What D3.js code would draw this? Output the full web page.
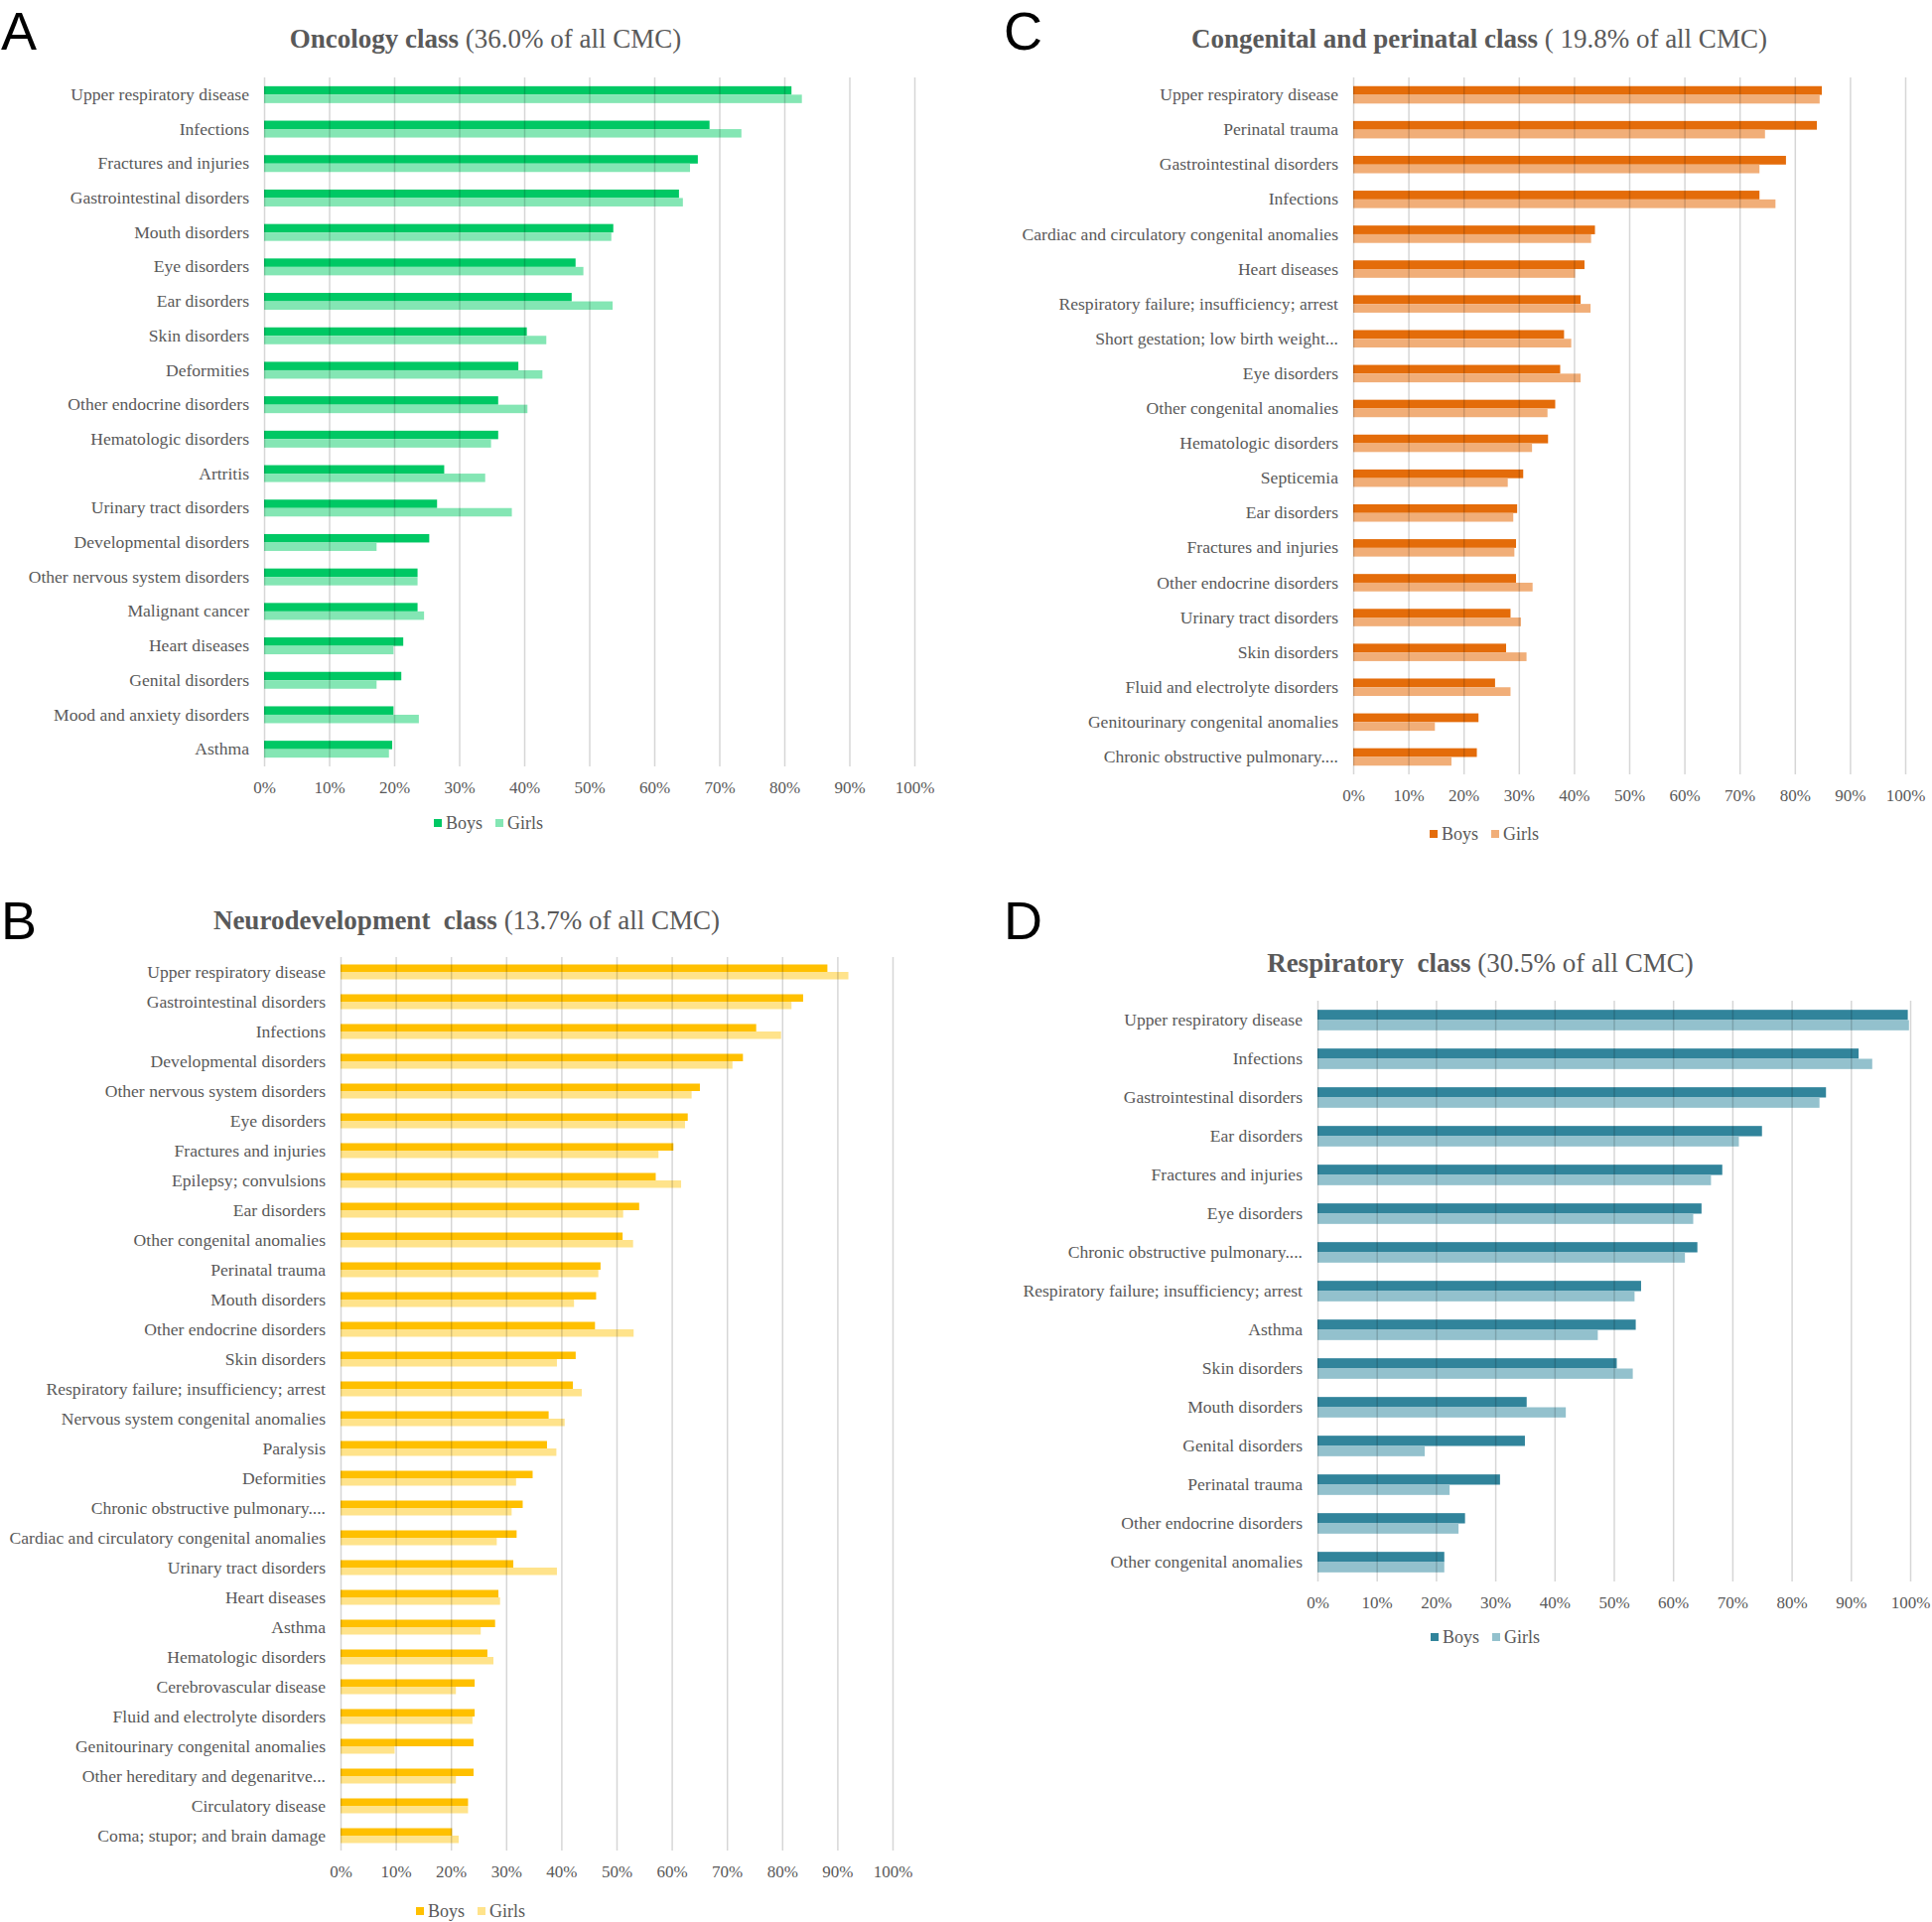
<!DOCTYPE html>
<html>
<head>
<meta charset="utf-8">
<script src="https://cdn.jsdelivr.net/npm/d3@7"></script>
<style>
body { margin: 0; background: #fff; }
text { font-family: "Liberation Serif", "Times New Roman", serif; fill: #595959; }
.panel-letter { font-family: "Liberation Sans", Arial, sans-serif; fill: #000; }
</style>
</head>
<body>
<svg id="chart" width="1946" height="1936"></svg>
<script>
// ---- data (percent of children in each class) ----
var seriesNames = ["Boys", "Girls"];
var pctTicks = [0, 10, 20, 30, 40, 50, 60, 70, 80, 90, 100];

var oncologyLabels = ["Upper respiratory disease", "Infections", "Fractures and injuries", "Gastrointestinal disorders",
    "Mouth disorders", "Eye disorders", "Ear disorders", "Skin disorders", "Deformities", "Other endocrine disorders",
    "Hematologic disorders", "Artritis", "Urinary tract disorders", "Developmental disorders",
    "Other nervous system disorders", "Malignant cancer", "Heart diseases", "Genital disorders",
    "Mood and anxiety disorders", "Asthma"];
var oncologyBoys = [81.1, 68.5, 66.7, 63.8, 53.7, 47.9, 47.3, 40.4, 39.1, 36.0, 36.0, 27.7, 26.6, 25.4, 23.6, 23.6, 21.4, 21.1, 19.9, 19.7];
var oncologyGirls = [82.7, 73.4, 65.5, 64.4, 53.4, 49.1, 53.6, 43.4, 42.8, 40.5, 34.9, 34.0, 38.1, 17.3, 23.6, 24.6, 19.9, 17.3, 23.8, 19.2];

var congenitalLabels = ["Upper respiratory disease", "Perinatal trauma", "Gastrointestinal disorders", "Infections",
    "Cardiac and circulatory congenital anomalies", "Heart diseases", "Respiratory failure; insufficiency; arrest",
    "Short gestation; low birth weight...", "Eye disorders", "Other congenital anomalies", "Hematologic disorders",
    "Septicemia", "Ear disorders", "Fractures and injuries", "Other endocrine disorders", "Urinary tract disorders",
    "Skin disorders", "Fluid and electrolyte disorders", "Genitourinary congenital anomalies",
    "Chronic obstructive pulmonary...."];
var congenitalBoys = [84.9, 84.0, 78.4, 73.6, 43.8, 41.9, 41.2, 38.2, 37.5, 36.6, 35.3, 30.8, 29.7, 29.5, 29.5, 28.5, 27.7, 25.7, 22.7, 22.4];
var congenitalGirls = [84.5, 74.6, 73.6, 76.5, 43.1, 40.2, 43.0, 39.5, 41.2, 35.2, 32.4, 28.0, 29.0, 29.2, 32.5, 30.4, 31.4, 28.5, 14.8, 17.8];

var neuroLabels = ["Upper respiratory disease", "Gastrointestinal disorders", "Infections", "Developmental disorders",
    "Other nervous system disorders", "Eye disorders", "Fractures and injuries", "Epilepsy; convulsions",
    "Ear disorders", "Other congenital anomalies", "Perinatal trauma", "Mouth disorders", "Other endocrine disorders",
    "Skin disorders", "Respiratory failure; insufficiency; arrest", "Nervous system congenital anomalies",
    "Paralysis", "Deformities", "Chronic obstructive pulmonary....", "Cardiac and circulatory congenital anomalies",
    "Urinary tract disorders", "Heart diseases", "Asthma", "Hematologic disorders", "Cerebrovascular disease",
    "Fluid and electrolyte disorders", "Genitourinary congenital anomalies", "Other hereditary and degenaritve...",
    "Circulatory disease", "Coma; stupor; and brain damage"];
var neuroBoys = [88.2, 83.8, 75.3, 72.9, 65.1, 62.9, 60.3, 57.1, 54.1, 51.1, 47.1, 46.3, 46.1, 42.6, 42.1, 37.7, 37.4, 34.8, 33.0, 31.9,
    31.3, 28.6, 28.0, 26.6, 24.3, 24.3, 24.1, 24.1, 23.1, 20.2];
var neuroGirls = [92.0, 81.7, 79.8, 71.0, 63.6, 62.4, 57.6, 61.7, 51.2, 53.0, 46.7, 42.3, 53.1, 39.2, 43.7, 40.6, 39.1, 31.8, 31.0, 28.3,
    39.2, 28.9, 25.4, 27.7, 20.9, 23.9, 9.8, 20.9, 23.1, 21.4];

var respiratoryLabels = ["Upper respiratory disease", "Infections", "Gastrointestinal disorders", "Ear disorders",
    "Fractures and injuries", "Eye disorders", "Chronic obstructive pulmonary....",
    "Respiratory failure; insufficiency; arrest", "Asthma", "Skin disorders", "Mouth disorders", "Genital disorders",
    "Perinatal trauma", "Other endocrine disorders", "Other congenital anomalies"];
var respiratoryBoys = [99.6, 91.3, 85.8, 75.0, 68.3, 64.8, 64.1, 54.6, 53.7, 50.5, 35.3, 35.0, 30.8, 24.9, 21.4];
var respiratoryGirls = [99.8, 93.6, 84.7, 71.1, 66.4, 63.4, 62.0, 53.5, 47.3, 53.2, 41.9, 18.1, 22.3, 23.8, 21.4];

// ---- layout ----
var panels = [
    { letter: "A", letterX: 1, letterY: 50, bold: "Oncology class", rest: " (36.0% of all CMC)", titleX: 489, titleY: 48,
      labels: oncologyLabels, boys: oncologyBoys, girls: oncologyGirls,
      x0: 266, x1: 921, top: 78, bottom: 772, pad: 0.51, legendX: 492, legendY: 829,
      colors: { Boys: "#00c864", Girls: "#84e6b4" } },
    { letter: "C", letterX: 1011, letterY: 50, bold: "Congenital and perinatal class", rest: " ( 19.8% of all CMC)", titleX: 1490, titleY: 48,
      labels: congenitalLabels, boys: congenitalBoys, girls: congenitalGirls,
      x0: 1363, x1: 1919, top: 78, bottom: 780, pad: 0.5, legendX: 1495, legendY: 840,
      colors: { Boys: "#e46c0a", Girls: "#f1ae78" } },
    { letter: "B", letterX: 1, letterY: 946, bold: "Neurodevelopment  class", rest: " (13.7% of all CMC)", titleX: 470, titleY: 936,
      labels: neuroLabels, boys: neuroBoys, girls: neuroGirls,
      x0: 343, x1: 899, top: 964, bottom: 1864, pad: 0.5, legendX: 474, legendY: 1925,
      colors: { Boys: "#ffc000", Girls: "#ffe38b" } },
    { letter: "D", letterX: 1011, letterY: 946, bold: "Respiratory  class", rest: " (30.5% of all CMC)", titleX: 1491, titleY: 979,
      labels: respiratoryLabels, boys: respiratoryBoys, girls: respiratoryGirls,
      x0: 1327, x1: 1924, top: 1008, bottom: 1593, pad: 0.47, legendX: 1496, legendY: 1649,
      colors: { Boys: "#31849b", Girls: "#93c1cd" } }
];

var svg = d3.select("#chart");

function drawPanel(p) {
    var g = svg.append("g");

    var x = d3.scaleLinear().domain([0, 100]).range([p.x0, p.x1]);
    var y = d3.scaleBand().domain(p.labels).range([p.top, p.bottom])
        .paddingInner(p.pad).paddingOuter(p.pad / 2);
    var sub = d3.scaleBand().domain(seriesNames).range([0, y.bandwidth()]);

    var rows = p.labels.map(function(label, i) {
        return { label: label, Boys: p.boys[i], Girls: p.girls[i] };
    });

    // bars
    g.selectAll("g.row")
        .data(rows)
        .enter()
        .append("g")
        .attr("class", "row")
        .attr("transform", function(d) { return "translate(0," + y(d.label) + ")"; })
        .selectAll("rect")
        .data(function(d) { return seriesNames.map(function(s) { return { s: s, v: d[s] }; }); })
        .enter()
        .append("rect")
        .attr("x", x(0))
        .attr("y", function(d) { return sub(d.s); })
        .attr("width", function(d) { return x(d.v) - x(0); })
        .attr("height", sub.bandwidth())
        .attr("fill", function(d) { return p.colors[d.s]; });

    // vertical gridlines (drawn over the bars, like the original)
    var grid = g.append("g")
        .attr("transform", "translate(0," + p.bottom + ")")
        .call(d3.axisBottom(x).tickValues(pctTicks).tickSize(-(p.bottom - p.top)).tickFormat(""));
    grid.select(".domain").remove();
    grid.selectAll("line").attr("stroke", "#000").attr("stroke-opacity", 0.16).attr("stroke-width", 1.5);

    // percent labels
    var xAxis = g.append("g")
        .attr("transform", "translate(0," + p.bottom + ")")
        .call(d3.axisBottom(x).tickValues(pctTicks).tickSize(0).tickPadding(15)
            .tickFormat(function(d) { return d + "%"; }));
    xAxis.select(".domain").remove();
    xAxis.selectAll("text").attr("font-family", null).style("font-size", "17px").style("fill", "#595959");

    // category labels
    var yAxis = g.append("g")
        .attr("transform", "translate(" + p.x0 + ",0)")
        .call(d3.axisLeft(y).tickSize(0).tickPadding(15));
    yAxis.select(".domain").remove();
    yAxis.selectAll("text").attr("font-family", null).style("font-size", "17.6px").style("fill", "#595959");

    // title
    var title = g.append("text")
        .attr("x", p.titleX)
        .attr("y", p.titleY)
        .attr("text-anchor", "middle")
        .style("font-size", "27px")
        .style("white-space", "pre");
    title.append("tspan").attr("font-weight", "bold").text(p.bold);
    title.append("tspan").text(p.rest);

    // legend
    var legendOffsets = { Boys: -55, Girls: 7 };
    var legend = g.selectAll("g.legend")
        .data(seriesNames)
        .enter()
        .append("g")
        .attr("transform", function(s) { return "translate(" + (p.legendX + legendOffsets[s]) + "," + p.legendY + ")"; });
    legend.append("rect")
        .attr("x", 0).attr("y", -4).attr("width", 8).attr("height", 8)
        .attr("fill", function(s) { return p.colors[s]; });
    legend.append("text")
        .attr("x", 12).attr("y", 6)
        .style("font-size", "18px")
        .text(function(s) { return s; });

    // panel letter
    svg.append("text")
        .attr("class", "panel-letter")
        .attr("x", p.letterX)
        .attr("y", p.letterY)
        .style("font-size", "54px")
        .text(p.letter);
}

panels.forEach(drawPanel);
</script>
</body>
</html>
